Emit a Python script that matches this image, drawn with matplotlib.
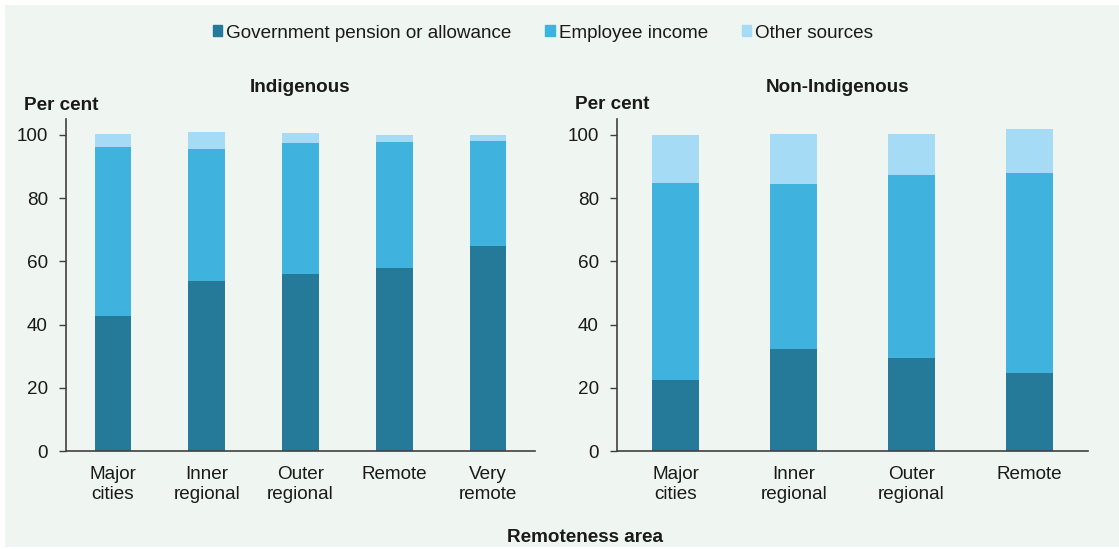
import matplotlib.pyplot as plt
import matplotlib.patches as mpatches
import numpy as np

plt.rcParams['font.family'] = ['Liberation Sans', 'DejaVu Sans']

# data (per cent)
ind_cats = ['Major\ncities', 'Inner\nregional', 'Outer\nregional', 'Remote', 'Very\nremote']
ind_gov = [42.6, 53.7, 56.0, 57.9, 64.8]
ind_emp = [53.5, 42.0, 41.6, 40.0, 33.3]
ind_other = [4.2, 5.1, 3.0, 2.2, 2.0]

non_cats = ['Major\ncities', 'Inner\nregional', 'Outer\nregional', 'Remote']
non_gov = [22.5, 32.3, 29.5, 24.8]
non_emp = [62.3, 52.3, 57.9, 63.3]
non_other = [15.2, 15.6, 12.8, 13.8]

series_names = ['Government pension or allowance', 'Employee income', 'Other sources']
colors = ['#267A99', '#3FB2DE', '#A5DBF4']
bg = '#EFF5F1'
text_col = '#1A1A1A'
fs = 13.6

W, H = 1119, 549
fig = plt.figure(figsize=(W / 100, H / 100), dpi=100)
fig.patch.set_facecolor('white')
fig.patches.append(mpatches.Rectangle((5 / W, 2 / H), (W - 5) / W, (H - 7) / H,
                                      transform=fig.transFigure, facecolor=bg,
                                      edgecolor='none', zorder=-10))


def draw_panel(rect, cats, gov, emp, other, width):
    ax = fig.add_axes(rect)
    ax.set_facecolor('none')
    x = np.arange(len(cats))
    gov = np.array(gov)
    emp = np.array(emp)
    other = np.array(other)
    ax.bar(x, gov, width, color=colors[0], edgecolor='none')
    ax.bar(x, emp, width, bottom=gov, color=colors[1], edgecolor='none')
    ax.bar(x, other, width, bottom=gov + emp, color=colors[2], edgecolor='none')
    ax.set_xlim(-0.5, len(cats) - 0.5)
    ax.set_ylim(0, 105)
    ax.set_yticks([0, 20, 40, 60, 80, 100])
    ax.set_xticks(x)
    ax.set_xticklabels(cats, fontsize=fs, color=text_col, linespacing=1.2)
    ax.tick_params(axis='x', length=0, pad=11)
    ax.tick_params(axis='y', length=5, width=1, color='#404040',
                   labelsize=fs, labelcolor=text_col, pad=8)
    for s in ['top', 'right']:
        ax.spines[s].set_visible(False)
    for s in ['left', 'bottom']:
        ax.spines[s].set_color('#404040')
        ax.spines[s].set_linewidth(1.2)
    return ax


bottom = 1 - 451 / H
height = 105 * 3.16 / H
ax1 = draw_panel([66 / W, bottom, 469 / W, height], ind_cats, ind_gov, ind_emp, ind_other, 0.39)
ax2 = draw_panel([617 / W, bottom, 471 / W, height], non_cats, non_gov, non_emp, non_other, 0.40)

# titles and labels
fig.text(300 / W, 1 - 87 / H, 'Indigenous', ha='center', va='center',
         fontsize=fs, fontweight='bold', color=text_col)
fig.text(838 / W, 1 - 87 / H, 'Non-Indigenous', ha='center', va='center',
         fontsize=fs, fontweight='bold', color=text_col)
fig.text(24 / W, 1 - 105 / H, 'Per cent', ha='left', va='center',
         fontsize=fs, fontweight='bold', color=text_col)
fig.text(575 / W, 1 - 104 / H, 'Per cent', ha='left', va='center',
         fontsize=fs, fontweight='bold', color=text_col)
fig.text(585 / W, 1 - 538 / H, 'Remoteness area', ha='center', va='center',
         fontsize=fs, fontweight='bold', color=text_col)

handles = [mpatches.Patch(color=c) for c in colors]
fig.legend(handles, series_names, loc='center', bbox_to_anchor=(543 / W, 1 - 33 / H),
           ncol=3, frameon=False, fontsize=fs, handlelength=0.5, handleheight=0.5,
           handletextpad=0.2, columnspacing=1.8, labelcolor=text_col)

fig.savefig('out.png', dpi=100, facecolor=fig.get_facecolor())
